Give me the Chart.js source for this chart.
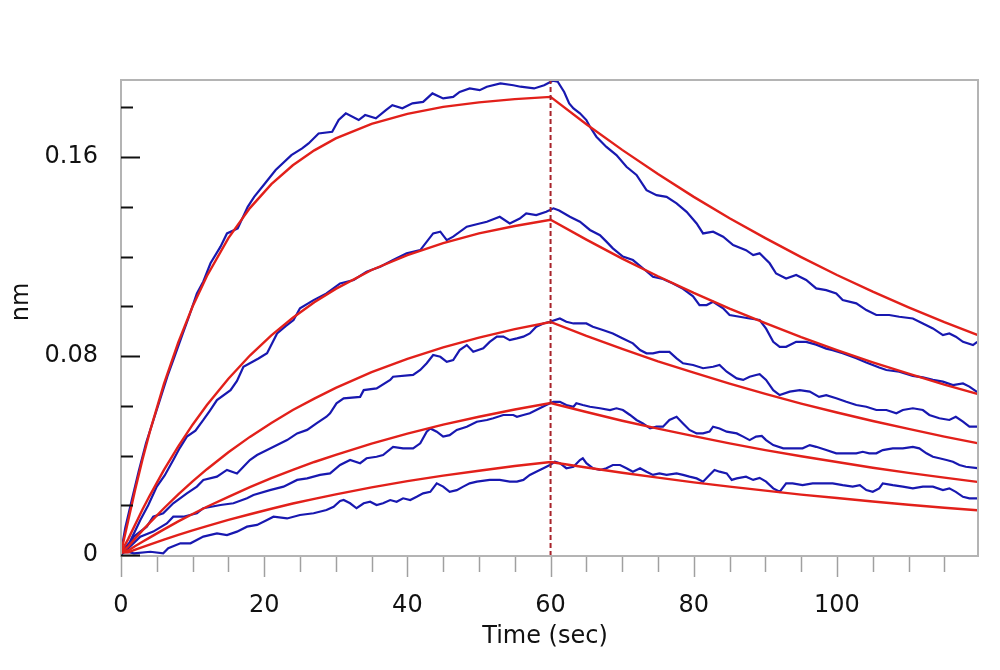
<!DOCTYPE html>
<html>
<head>
<meta charset="utf-8">
<script src="https://cdn.jsdelivr.net/npm/chart.js@4/dist/chart.umd.min.js"></script>
<style>
  html, body { margin: 0; background: #fff; }
</style>
</head>
<body>
<canvas id="grafico" width="1000" height="670"></canvas>
<script>
// eixos
const xMin = 0, xMax = 119.7;
const yMin = -0.0004, yMax = 0.191;
const yTickMarks = [0, 0.02, 0.04, 0.06, 0.08, 0.10, 0.12, 0.14, 0.16, 0.18];
const yLabelValues = [0, 0.08, 0.16];
const yLabelTexts = ['0', '0.08', '0.16'];
const xLabelValues = [0, 20, 40, 60, 80, 100];
const xTickMarks = [0, 5, 10, 15, 20, 25, 30, 35, 40, 45, 50, 55, 60, 65, 70, 75, 80, 85, 90, 95, 100, 105, 110, 115];
const switchTime = 60; // inicio da dissociacao

// curvas ajustadas (vermelho)
const fitTime = [0, 1, 2, 3, 4, 6, 8, 10, 12, 15, 18, 21, 24, 27, 30, 35, 40, 45, 50, 55, 60,
  65, 70, 75, 80, 85, 90, 95, 100, 105, 110, 115, 119.6];
const fit1 = [0.001, 0.0138, 0.0265, 0.0384, 0.0493, 0.0688, 0.0855, 0.0999, 0.1122, 0.1274, 0.1395, 0.1491, 0.1567, 0.1627, 0.1675, 0.1734, 0.1774, 0.1802, 0.1820, 0.1833, 0.1842,
  0.1732, 0.1629, 0.1532, 0.1440, 0.1354, 0.1274, 0.1198, 0.1126, 0.1059, 0.0996, 0.0936, 0.0885];
const fit2 = [0.001, 0.0064, 0.0124, 0.0183, 0.0238, 0.0342, 0.0437, 0.0524, 0.0603, 0.0709, 0.0802, 0.0883, 0.0954, 0.1016, 0.1070, 0.1146, 0.1206, 0.1254, 0.1293, 0.1323, 0.1348,
  0.1268, 0.1192, 0.1121, 0.1054, 0.0991, 0.0932, 0.0876, 0.0824, 0.0775, 0.0729, 0.0685, 0.0648];
const fit3 = [0.001, 0.0034, 0.0067, 0.0099, 0.0129, 0.0188, 0.0244, 0.0296, 0.0345, 0.0413, 0.0475, 0.0531, 0.0583, 0.0629, 0.0672, 0.0735, 0.0789, 0.0835, 0.0874, 0.0908, 0.0937,
  0.0881, 0.0829, 0.0779, 0.0733, 0.0689, 0.0648, 0.0609, 0.0573, 0.0539, 0.0507, 0.0476, 0.0450];
const fit4 = [0.001, 0.0018, 0.0036, 0.0053, 0.0070, 0.0103, 0.0135, 0.0165, 0.0194, 0.0234, 0.0273, 0.0309, 0.0342, 0.0374, 0.0403, 0.0448, 0.0488, 0.0524, 0.0556, 0.0585, 0.0611,
  0.0575, 0.0540, 0.0508, 0.0478, 0.0449, 0.0422, 0.0397, 0.0374, 0.0351, 0.0330, 0.0311, 0.0294];
const fit5 = [0.001, 0.0011, 0.0022, 0.0032, 0.0042, 0.0062, 0.0081, 0.0099, 0.0116, 0.0141, 0.0164, 0.0186, 0.0207, 0.0226, 0.0244, 0.0272, 0.0297, 0.0319, 0.0339, 0.0358, 0.0374,
  0.0352, 0.0331, 0.0311, 0.0292, 0.0275, 0.0259, 0.0243, 0.0229, 0.0215, 0.0202, 0.0190, 0.0180];

// sinais medidos (azul), pares [tempo, nm]
const raw1 = [[0,0.001],[0.6,0.011],[1.5,0.022],[2.5,0.034],[3.5,0.045],[4.5,0.054],[5.5,0.063],[6.5,0.072],[7.5,0.080],[8.5,0.088],[9.5,0.096],
  [10.6,0.1052],[11.5,0.1100],[12.5,0.1173],[13.9,0.1240],[14.8,0.1293],[16.3,0.1313],[17.7,0.1400],[18.6,0.1440],[20.1,0.1494],[21.6,0.1548],
  [23.8,0.1608],[25.3,0.1635],[26.2,0.1655],[27.6,0.1695],[29.5,0.1702],[30.4,0.1749],[31.4,0.1776],[33.2,0.1749],[34.1,0.1769],[35.6,0.1756],
  [37.0,0.1789],[37.9,0.1809],[39.3,0.1796],[40.7,0.1816],[42.2,0.1822],[43.5,0.1856],[45.0,0.1836],[46.4,0.1842],[47.3,0.1862],[48.7,0.1876],
  [50.1,0.1869],[51.1,0.1883],[53.0,0.1896],[54.8,0.1889],[55.8,0.1883],[57.7,0.1876],[59.1,0.1889],[60.3,0.1907],[61.0,0.1903],[61.9,0.1862],
  [62.6,0.1816],[63.2,0.1796],[64.1,0.1776],[65.0,0.1749],[65.5,0.1722],[66.4,0.1682],[67.8,0.1641],[69.2,0.1608],[70.6,0.1561],[72.0,0.1528],
  [73.4,0.1467],[74.8,0.1447],[76.2,0.1440],[77.6,0.1414],[79.0,0.1380],[80.4,0.1333],[81.3,0.1293],[82.7,0.1300],[84.1,0.1280],[85.5,0.1246],
  [87.3,0.1226],[88.3,0.1206],[89.2,0.1213],[90.6,0.1173],[91.5,0.1132],[92.9,0.1112],[94.3,0.1126],[95.7,0.1106],[97.1,0.1072],[98.5,0.1065],
  [99.9,0.1052],[100.8,0.1025],[102.7,0.1012],[104.1,0.0985],[105.5,0.0965],[107.3,0.0965],[108.7,0.0958],[110.6,0.0951],[112.0,0.0931],
  [113.4,0.0911],[114.8,0.0884],[115.7,0.0891],[116.6,0.0878],[117.6,0.0857],[119.0,0.0844],[119.6,0.0857]];
const raw2 = [[0,0.001],[1.2,0.005],[2.7,0.0141],[3.8,0.020],[5.0,0.0275],[6.1,0.032],[7.3,0.0382],[8.2,0.043],[9.2,0.0476],[10.4,0.050],
  [11.5,0.0543],[12.4,0.058],[13.4,0.0623],[15.3,0.0663],[16.2,0.070],[17.1,0.0757],[18.0,0.0771],[19.2,0.079],[20.4,0.0811],[21.8,0.0891],
  [23.0,0.092],[24.1,0.0945],[25.0,0.0992],[26.9,0.1025],[28.7,0.1052],[30.6,0.1092],[32.5,0.1106],[34.3,0.1139],[36.2,0.1159],[38.0,0.1186],
  [39.9,0.1213],[41.8,0.1226],[43.6,0.1293],[44.6,0.1300],[45.5,0.1266],[46.4,0.1280],[48.3,0.1320],[50.1,0.1333],[51.1,0.1340],[52.9,0.1360],
  [54.3,0.1333],[55.7,0.1353],[56.6,0.1374],[58.0,0.1367],[59.4,0.1380],[60.4,0.1394],[61.2,0.1385],[62.7,0.1360],[64.1,0.1340],[65.5,0.1307],
  [66.9,0.1286],[67.8,0.1260],[68.7,0.1233],[70.1,0.1200],[71.5,0.1186],[72.9,0.1153],[74.3,0.1119],[75.7,0.1110],[77.1,0.1092],[78.5,0.1070],
  [79.9,0.1040],[80.8,0.1005],[81.8,0.1005],[82.7,0.1018],[84.1,0.0992],[85.0,0.0965],[86.4,0.0958],[87.8,0.0951],[89.2,0.0945],[90.1,0.0910],
  [91.1,0.0857],[92.0,0.0837],[92.9,0.0837],[94.3,0.0857],[95.7,0.0857],[97.1,0.0846],[98.5,0.0830],[99.4,0.0824],[100.8,0.0811],[102.7,0.0791],
  [104.1,0.0774],[105.9,0.0754],[106.9,0.0744],[108.7,0.0737],[110.6,0.0720],[112.0,0.0714],[113.4,0.0704],[114.8,0.0697],[116.2,0.0683],
  [117.6,0.0690],[118.5,0.0677],[119.6,0.0655]];
const raw3 = [[0,0.0005],[0.9,0.003],[1.8,0.0074],[3.6,0.0114],[4.5,0.0154],[5.9,0.0168],[7.3,0.0208],[9.2,0.0248],[10.6,0.0275],[11.5,0.0302],
  [13.4,0.0315],[14.8,0.0342],[16.2,0.0328],[17.1,0.0355],[18.0,0.0382],[19.0,0.0402],[20.4,0.0422],[21.8,0.0442],[23.2,0.0462],[24.6,0.0489],
  [26.0,0.0503],[27.3,0.0529],[28.7,0.0556],[29.2,0.0570],[30.1,0.0610],[31.1,0.0630],[33.4,0.0636],[33.9,0.0663],[35.7,0.0670],[37.6,0.0704],
  [38.0,0.0717],[40.8,0.0724],[41.8,0.0744],[42.7,0.0771],[43.6,0.0804],[44.6,0.0797],[45.5,0.0777],[46.4,0.0784],[47.3,0.0824],[48.3,0.0844],
  [49.2,0.0817],[50.6,0.0831],[51.5,0.0857],[52.5,0.0878],[53.4,0.0878],[54.3,0.0864],[55.3,0.0871],[56.2,0.0878],[57.1,0.0891],[58.0,0.0918],
  [59.0,0.0931],[59.9,0.0938],[61.3,0.0951],[62.2,0.0938],[63.2,0.0931],[65.0,0.0931],[65.9,0.0918],[67.3,0.0905],[68.7,0.0891],[70.1,0.0871],
  [71.5,0.0851],[72.5,0.0824],[73.4,0.0811],[74.3,0.0811],[75.2,0.0817],[76.6,0.0817],[77.6,0.0791],[78.5,0.0771],[79.9,0.0764],[81.3,0.0751],
  [82.7,0.0757],[83.6,0.0764],[84.6,0.0737],[86.0,0.0710],[86.9,0.0704],[87.8,0.0717],[88.7,0.0724],[89.2,0.0727],[90.1,0.0704],[91.1,0.0663],
  [92.0,0.0643],[93.4,0.0657],[94.8,0.0663],[96.2,0.0657],[97.5,0.0636],[98.5,0.0643],[99.9,0.0630],[101.3,0.0616],[102.7,0.0603],[104.1,0.0596],
  [105.5,0.0583],[106.9,0.0583],[108.3,0.0570],[109.2,0.0583],[110.6,0.0590],[112.0,0.0583],[112.9,0.0563],[114.3,0.0550],[115.7,0.0543],
  [116.6,0.0556],[117.6,0.0536],[118.5,0.0516],[119.6,0.0516]];
const raw4 = [[0,0],[1.5,0.004],[2.7,0.0074],[4.5,0.0094],[6.4,0.0127],[7.3,0.0154],[8.7,0.0154],[10.6,0.0168],[11.5,0.0188],[13.9,0.0201],
  [15.7,0.0208],[17.6,0.0228],[18.5,0.0241],[20.8,0.0261],[22.7,0.0275],[24.6,0.0302],[26.0,0.0308],[27.8,0.0322],[29.2,0.0328],[30.6,0.0362],
  [32.0,0.0382],[33.4,0.0369],[34.3,0.0389],[35.7,0.0395],[36.6,0.0402],[38.0,0.0435],[39.4,0.0429],[40.8,0.0429],[41.8,0.0449],[42.7,0.0496],
  [43.2,0.0509],[44.1,0.0496],[45.0,0.0476],[45.9,0.0482],[46.9,0.0503],[48.3,0.0516],[49.7,0.0536],[51.1,0.0543],[52.0,0.0550],[53.4,0.0563],
  [54.8,0.0563],[55.3,0.0556],[56.2,0.0563],[57.1,0.0570],[58.0,0.0583],[59.4,0.0603],[60.4,0.0616],[61.3,0.0616],[62.2,0.0603],[63.2,0.0596],
  [63.6,0.0610],[64.5,0.0603],[65.5,0.0596],[66.9,0.0590],[68.3,0.0583],[69.2,0.0590],[70.1,0.0583],[71.1,0.0563],[72.0,0.0543],[72.9,0.0529],
  [73.9,0.0509],[74.8,0.0516],[75.7,0.0516],[76.6,0.0543],[77.6,0.0556],[78.5,0.0529],[79.4,0.0503],[80.4,0.0489],[81.3,0.0489],[82.2,0.0496],
  [82.7,0.0516],[83.6,0.0509],[84.6,0.0496],[86.0,0.0489],[86.9,0.0476],[87.8,0.0462],[88.7,0.0476],[89.5,0.0479],[90.1,0.0462],[91.1,0.0442],
  [92.5,0.0429],[93.8,0.0429],[95.2,0.0429],[96.2,0.0442],[97.1,0.0435],[98.5,0.0422],[99.9,0.0409],[101.3,0.0409],[102.7,0.0409],[103.6,0.0415],
  [104.5,0.0409],[105.5,0.0409],[106.4,0.0422],[107.8,0.0429],[109.2,0.0429],[110.6,0.0435],[111.5,0.0429],[112.5,0.0409],[113.4,0.0395],
  [114.3,0.0389],[115.3,0.0382],[116.2,0.0375],[117.1,0.0362],[118.0,0.0355],[119.6,0.0349]];
const raw5 = [[0,0.001],[1.0,0.0012],[1.8,0.0007],[4.1,0.0013],[5.9,0.0007],[6.6,0.0027],[8.3,0.0047],[9.7,0.0047],[11.5,0.0074],[13.4,0.0087],
  [14.8,0.0080],[16.2,0.0094],[17.6,0.0114],[19.0,0.0121],[20.4,0.0141],[21.3,0.0154],[23.2,0.0147],[25.0,0.0161],[26.9,0.0168],[28.7,0.0181],
  [29.7,0.0194],[30.6,0.0217],[31.1,0.0221],[32.0,0.0208],[32.9,0.0188],[33.9,0.0208],[34.8,0.0214],[35.7,0.0201],[36.6,0.0208],[37.6,0.0221],
  [38.5,0.0214],[39.4,0.0228],[40.4,0.0221],[41.3,0.0234],[42.2,0.0248],[43.2,0.0254],[44.1,0.0288],[45.0,0.0275],[45.9,0.0254],[46.9,0.0261],
  [47.8,0.0275],[48.7,0.0288],[49.7,0.0295],[51.5,0.0302],[52.9,0.0302],[54.3,0.0295],[55.3,0.0295],[56.2,0.0302],[57.1,0.0322],[58.0,0.0335],
  [59.0,0.0349],[59.9,0.0362],[60.6,0.0375],[61.3,0.0369],[62.2,0.0349],[63.2,0.0355],[64.1,0.0382],[64.5,0.0389],[65.0,0.0369],[65.9,0.0349],
  [66.9,0.0342],[67.8,0.0349],[68.7,0.0362],[69.7,0.0362],[70.6,0.0349],[71.5,0.0335],[72.5,0.0349],[73.4,0.0335],[74.3,0.0322],[75.2,0.0328],
  [76.2,0.0322],[77.6,0.0328],[78.5,0.0322],[79.4,0.0315],[80.4,0.0308],[81.3,0.0295],[82.2,0.0322],[82.9,0.0342],[83.6,0.0335],[84.6,0.0328],
  [85.3,0.0302],[86.0,0.0308],[87.3,0.0315],[88.3,0.0302],[89.2,0.0310],[90.1,0.0295],[91.1,0.0268],[92.0,0.0254],[92.9,0.0288],[93.8,0.0288],
  [95.2,0.0281],[96.6,0.0288],[98.0,0.0288],[99.4,0.0288],[100.8,0.0281],[102.2,0.0275],[103.2,0.0281],[104.1,0.0261],[105.0,0.0254],
  [105.9,0.0268],[106.4,0.0288],[107.8,0.0281],[109.2,0.0275],[110.6,0.0268],[112.0,0.0275],[113.4,0.0275],[114.8,0.0261],[115.7,0.0268],
  [116.6,0.0254],[117.6,0.0234],[118.5,0.0228],[119.6,0.0228]];

const AZUL = '#1818b0';
const VERMELHO = '#e2201a';
const FONTE = '"DejaVu Sans", sans-serif';

const fits = [fit1, fit2, fit3, fit4, fit5];
const raws = [raw1, raw2, raw3, raw4, raw5];

const datasets = [];
// linha tracejada em t = 60
datasets.push({
  data: [{ x: switchTime, y: yMin }, { x: switchTime, y: yMax }],
  borderColor: '#a8232a',
  borderWidth: 2,
  borderDash: [5, 3],
  pointRadius: 0,
  order: 0
});
fits.forEach(f => datasets.push({
  data: fitTime.map((t, i) => ({ x: t, y: f[i] })),
  borderColor: VERMELHO,
  borderWidth: 2.4,
  pointRadius: 0,
  tension: 0,
  order: 1
}));
raws.forEach(r => datasets.push({
  data: r.map(p => ({ x: p[0], y: p[1] })),
  borderColor: AZUL,
  borderWidth: 2.2,
  pointRadius: 0,
  tension: 0,
  order: 2
}));

// moldura, marcas dos eixos e titulos
const moldura = {
  id: 'moldura',
  afterDraw(chart) {
    const ctx = chart.ctx;
    const a = chart.chartArea;
    const xs = chart.scales.x, ys = chart.scales.y;
    ctx.save();
    ctx.strokeStyle = '#b4b4b4';
    ctx.lineWidth = 2;
    ctx.strokeRect(a.left, a.top, a.right - a.left, a.bottom - a.top);

    ctx.strokeStyle = '#111';
    ctx.lineWidth = 2;
    yTickMarks.forEach(v => {
      const y = Math.round(ys.getPixelForValue(v)) + 0.5;
      const len = yLabelValues.includes(v) ? 19 : 12;
      ctx.beginPath();
      ctx.moveTo(a.left, y);
      ctx.lineTo(a.left + len, y);
      ctx.stroke();
    });

    ctx.strokeStyle = '#a0a0a0';
    ctx.lineWidth = 1.5;
    xTickMarks.forEach(t => {
      const x = Math.round(xs.getPixelForValue(t)) + 0.5;
      const len = xLabelValues.includes(t) ? 21 : 16;
      ctx.beginPath();
      ctx.moveTo(x, a.bottom + 1);
      ctx.lineTo(x, a.bottom + len);
      ctx.stroke();
    });

    ctx.fillStyle = '#111';
    ctx.font = '24px ' + FONTE;
    ctx.textAlign = 'center';
    ctx.textBaseline = 'middle';
    ctx.fillText('Time (sec)', 545, 637);
    ctx.translate(22, 302);
    ctx.rotate(-Math.PI / 2);
    ctx.fillText('nm', 0, 0);
    ctx.restore();
  }
};

new Chart(document.getElementById('grafico'), {
  type: 'line',
  data: { datasets: datasets },
  options: {
    responsive: false,
    animation: false,
    devicePixelRatio: 1,
    layout: { padding: { top: 80, right: 22, left: 0, bottom: 0 } },
    plugins: { legend: { display: false }, tooltip: { enabled: false } },
    scales: {
      x: {
        type: 'linear',
        min: xMin,
        max: xMax,
        grid: { display: false, drawTicks: false },
        border: { display: false },
        afterBuildTicks: s => { s.ticks = xLabelValues.map(v => ({ value: v })); },
        afterFit: s => { s.height = 114; },
        ticks: {
          autoSkip: false,
          maxRotation: 0,
          padding: 35,
          color: '#111',
          font: { family: FONTE, size: 24 },
          callback: v => String(v)
        }
      },
      y: {
        type: 'linear',
        min: yMin,
        max: yMax,
        grid: { display: false, drawTicks: false },
        border: { display: false },
        afterBuildTicks: s => { s.ticks = yTickMarks.map(v => ({ value: v })); },
        afterFit: s => { s.width = 121; },
        ticks: {
          autoSkip: false,
          padding: 23,
          color: '#111',
          font: { family: FONTE, size: 24 },
          callback: v => {
            const i = yLabelValues.findIndex(l => Math.abs(l - v) < 1e-9);
            return i >= 0 ? yLabelTexts[i] : '';
          }
        }
      }
    }
  },
  plugins: [moldura]
});
</script>
</body>
</html>
